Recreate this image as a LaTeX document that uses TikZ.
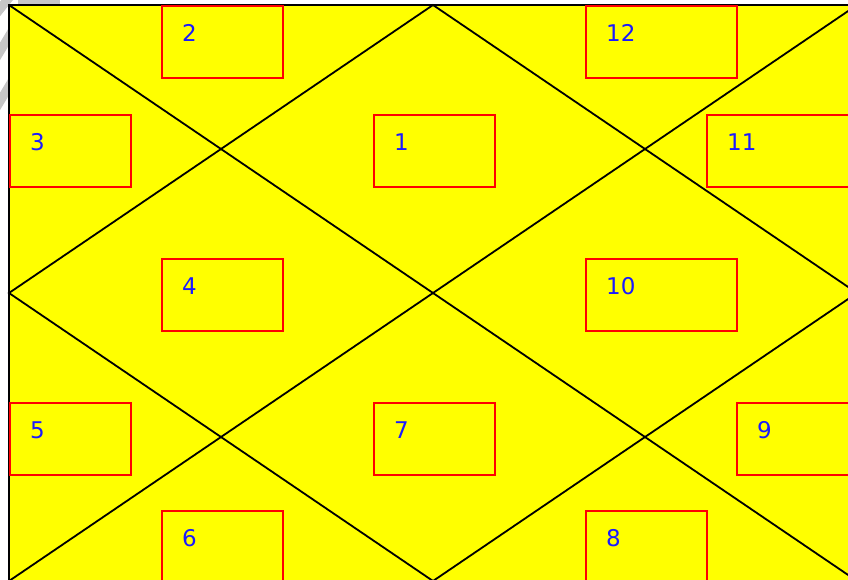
\documentclass[tikz,border=0pt]{standalone}
\usepackage{fontspec}
\setmainfont{DejaVu Sans}
\usepackage{tikz}
\usetikzlibrary{positioning}
\definecolor{chartyellow}{HTML}{FFFF00}
\definecolor{boxred}{HTML}{FF0000}
\definecolor{numblue}{HTML}{1A1AFF}

\begin{document}
\begin{tikzpicture}[
        x=1pt, y=-1pt,
        house/.style={rectangle, draw=boxred, line width=1.8pt, anchor=north west, minimum height=72pt, inner sep=0pt},
        num/.style={anchor=base west, text=numblue, inner sep=0pt, font=\fontsize{23}{27}\selectfont},
        chartline/.style={draw=black, line width=1.8pt}
    ]
    \useasboundingbox (0,0) rectangle (848,579);
    \clip (0,0) rectangle (848,579);
    % faint stamp behind the chart
    \draw[gray!45, line width=9pt] (-4,14) -- (12,-6);
    \draw[gray!45, line width=9pt] (-4,58) -- (14,28);
    \draw[gray!45, line width=9pt] (-4,108) -- (14,78);
    \draw[gray!45, line width=6pt] (18,2) -- (60,2);
    % chart
    \coordinate (tl) at (9,5);
    \coordinate (tr) at (857,5);
    \coordinate (bl) at (9,581);
    \coordinate (br) at (857,581);
    \coordinate (top) at (433,5);
    \coordinate (rgt) at (857,293);
    \coordinate (bot) at (433,581);
    \coordinate (lft) at (9,293);
    \filldraw[chartline, fill=chartyellow] (tl) rectangle (br);
    \draw[chartline] (tl) -- (br);
    \draw[chartline] (tr) -- (bl);
    \draw[chartline] (top) -- (rgt) -- (bot) -- (lft) -- cycle;
    % houses
    \node[house, minimum width=121pt] (h2) at (161,5) {};
    \node[house, minimum width=151pt] (h12) at (585,5) {};
    \node[house, minimum width=121pt] (h3) at (9,114) {};
    \node[house, minimum width=121pt] (h1) at (373,114) {};
    \node[house, minimum width=151pt] (h11) at (706,114) {};
    \node[house, minimum width=121pt] (h4) at (161,258) {};
    \node[house, minimum width=151pt] (h10) at (585,258) {};
    \node[house, minimum width=121pt] (h5) at (9,402) {};
    \node[house, minimum width=121pt] (h7) at (373,402) {};
    \node[house, minimum width=121pt] (h9) at (736,402) {};
    \node[house, minimum width=121pt] (h6) at (161,510) {};
    \node[house, minimum width=121pt] (h8) at (585,510) {};
    \foreach \h in {1,...,12}
        \node[num] at ([xshift=21pt, yshift=-36pt]h\h.north west) {\h};
\end{tikzpicture}
\end{document}
